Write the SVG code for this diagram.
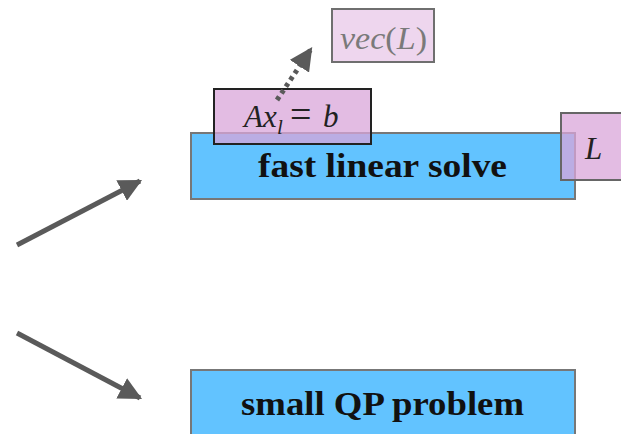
<svg xmlns="http://www.w3.org/2000/svg" width="621" height="434" viewBox="0 0 621 434">
<style>
.blue{fill:#62c3ff;stroke:#777;stroke-width:2}
.pink{fill:#d9a6d9;fill-opacity:0.75;stroke-width:2}
.lbl{font-family:"Liberation Serif",serif;font-weight:bold;font-size:34px;fill:#111}
.math{font-family:"Liberation Serif",serif;font-style:italic;font-size:31px;fill:#222}
.conn{stroke:#5a5a5a;stroke-width:5;fill:none}
</style>
<defs>
<marker id="ah" viewBox="0 0 10 10" refX="9" refY="5" markerWidth="4.6" markerHeight="4.6" markerUnits="strokeWidth" orient="auto">
<path d="M0,0 L10,5 L0,10 z" fill="#5a5a5a"/>
</marker>
</defs>
<g id="fast">
<rect class="blue" x="191" y="133" width="384" height="66"/>
<text class="lbl" x="258" y="177" textLength="249" lengthAdjust="spacingAndGlyphs">fast linear solve</text>
</g>
<g id="qp">
<rect class="blue" x="191" y="370" width="384" height="70"/>
<text class="lbl" x="241" y="415" textLength="283" lengthAdjust="spacingAndGlyphs">small QP problem</text>
</g>
<g id="axb">
<rect class="pink" x="214" y="89" width="157" height="55" stroke="#222"/>
<text class="math" y="127"><tspan x="244">Ax</tspan><tspan x="277" dy="7" font-size="21">l</tspan><tspan x="290" dy="-7" font-style="normal" font-size="38">=</tspan><tspan x="323">b</tspan></text>
</g>
<g id="vecL" opacity="0.6">
<rect class="pink" x="332" y="9" width="102" height="53" stroke="#111"/>
<text class="math" x="340" y="49" textLength="87" lengthAdjust="spacingAndGlyphs">vec<tspan font-style="normal">(</tspan>L<tspan font-style="normal">)</tspan></text>
</g>
<g id="Lnode">
<rect class="pink" x="561" y="113" width="64" height="67" stroke="#666"/>
<text class="math" x="585" y="159">L</text>
</g>
<g id="connectors">
<line class="conn" x1="17" y1="245" x2="140" y2="181" marker-end="url(#ah)"/>
<line class="conn" x1="17" y1="333" x2="140" y2="398" marker-end="url(#ah)"/>
<line class="conn" x1="277" y1="100" x2="311" y2="49" stroke-dasharray="4 4" marker-end="url(#ah)"/>
</g>
</svg>
